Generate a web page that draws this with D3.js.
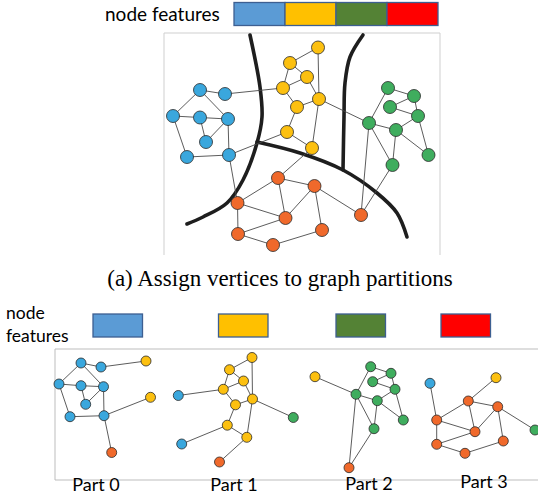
<!DOCTYPE html>
<html>
<head>
<meta charset="utf-8">
<script src="https://cdn.jsdelivr.net/npm/d3@7"></script>
<style>
  body { margin: 0; background: #fff; }
  svg { display: block; }
</style>
</head>
<body>
<div id="chart"></div>
<script>
// feature categories (one per partition)
var featureNames = ["f0", "f1", "f2", "f3"];
var partLabels = ["Part 0", "Part 1", "Part 2", "Part 3"];
var caption = "(a) Assign vertices to graph partitions";

// full graph, layout units: [id, feature, x, y]
var topNodes = [
  ["b1", 0, 36, 57], ["b2", 0, 61, 61], ["b3", 0, 9, 83], ["b4", 0, 36, 84.5],
  ["b5", 0, 64, 86], ["b6", 0, 42, 109], ["b7", 0, 23, 124], ["b8", 0, 65, 122],
  ["y1", 1, 154, 14.5], ["y2", 1, 126, 30], ["y3", 1, 143, 44], ["y4", 1, 119, 55],
  ["y5", 1, 155, 66], ["y6", 1, 133, 74], ["y7", 1, 123, 99], ["y8", 1, 148, 115],
  ["g1", 2, 224, 55], ["g2", 2, 250, 63], ["g3", 2, 226, 74], ["g4", 2, 254, 83],
  ["g5", 2, 205, 90], ["g6", 2, 232, 97], ["g7", 2, 264.5, 122], ["g8", 2, 228.5, 132],
  ["o1", 3, 114, 145], ["o2", 3, 150.5, 153], ["o3", 3, 73.5, 170], ["o4", 3, 121.5, 185],
  ["o5", 3, 197, 182], ["o6", 3, 158, 197], ["o7", 3, 74, 201], ["o8", 3, 109, 212]
];
var topEdges = [
  ["b1","b2"],["b1","b3"],["b1","b5"],["b3","b4"],["b4","b5"],["b4","b6"],["b5","b6"],
  ["b3","b7"],["b7","b8"],["b5","b8"],["b2","y4"],["b8","y7"],["b8","o3"],
  ["y1","y2"],["y1","y5"],["y2","y3"],["y2","y4"],["y3","y4"],["y3","y5"],["y4","y6"],
  ["y5","y6"],["y5","y8"],["y6","y7"],["y7","y8"],["y5","g5"],["y8","o1"],
  ["g1","g2"],["g1","g5"],["g2","g3"],["g2","g4"],["g3","g4"],["g4","g6"],["g4","g7"],
  ["g5","g6"],["g5","g8"],["g6","g7"],["g6","g8"],["g5","o5"],["g8","o5"],
  ["o1","o2"],["o1","o3"],["o1","o4"],["o2","o4"],["o2","o5"],["o2","o6"],["o3","o4"],
  ["o3","o7"],["o4","o7"],["o6","o8"],["o7","o8"]
];
// partition boundaries
var cutA = [[86,2],[96,54],[98,84],[93,110],[79,147],[63,170],[39,184],[23,191]];
var cutB = [[199,2],[186,24],[181,50],[180,84],[179,137]];
var cutC = [[93,109],[136,120],[179,137],[213,160],[233,180],[243,204]];

// the four partitions, with halo vertices from neighbours
var part0Nodes = [
  ["b1",0,26,14],["b2",0,46,18],["b3",0,4,35],["b4",0,26,36.7],["b5",0,48.5,37.7],
  ["b6",0,30.7,55.3],["b7",0,15,67.7],["b8",0,49,66.7],
  ["y4",1,91,12],["y7",1,95.5,48.3],["o3",3,56.7,103.5]
];
var part0Edges = [
  ["b1","b2"],["b1","b3"],["b1","b5"],["b3","b4"],["b4","b5"],["b4","b6"],["b5","b6"],
  ["b3","b7"],["b7","b8"],["b5","b8"],["b2","y4"],["b8","y7"],["b8","o3"]
];
var part1Nodes = [
  ["y1",1,197,8.5],["y2",1,174.5,20.7],["y3",1,188.5,32],["y4",1,168.3,40.3],
  ["y5",1,197.5,50],["y6",1,180.5,55.8],["y7",1,172.3,76.2],["y8",1,191.8,88.3],
  ["b2",0,123.3,46.5],["b8",0,126.7,95],["g5",2,238.3,68.5],["o1",3,164.5,113]
];
var part1Edges = [
  ["y1","y2"],["y1","y5"],["y2","y3"],["y2","y4"],["y3","y4"],["y3","y5"],["y4","y6"],
  ["y5","y6"],["y5","y8"],["y6","y7"],["y7","y8"],["y4","b2"],["y5","g5"],["y7","b8"],["y8","o1"]
];
var part2Nodes = [
  ["g1",2,315.7,17.7],["g2",2,336,24.3],["g3",2,317.7,32.7],["g4",2,340,40.3],
  ["g5",2,301,45.3],["g6",2,322.3,51.7],["g7",2,348.3,71],["g8",2,319,79.7],
  ["y5",1,260,27.7],["o5",3,294,118.7]
];
var part2Edges = [
  ["g1","g2"],["g1","g5"],["g2","g3"],["g2","g4"],["g3","g4"],["g4","g6"],["g4","g7"],
  ["g5","g6"],["g5","g8"],["g6","g7"],["g6","g8"],["g5","y5"],["g5","o5"],["g8","o5"]
];
var part3Nodes = [
  ["o1",3,413.3,52],["o2",3,442.7,57.7],["o3",3,381.7,71],["o4",3,420,82.7],
  ["o6",3,448.3,92],["o7",3,381.7,95.3],["o8",3,410,104.3],
  ["b8",0,375,34.3],["y8",1,441,28.7],["o5",2,480,81]
];
var part3Edges = [
  ["o1","o2"],["o1","o3"],["o1","o4"],["o2","o4"],["o2","o6"],["o3","o4"],["o3","o7"],
  ["o4","o7"],["o6","o8"],["o7","o8"],["o3","b8"],["o1","y8"],["o2","o5"]
];

var width = 538, height = 495;

var svg = d3.select("#chart").append("svg")
    .attr("width", width)
    .attr("height", height)
    .style("font-family", "Lato, 'Open Sans', sans-serif");

var nodeColor = d3.scaleOrdinal().domain([0,1,2,3])
    .range(["#3aa7dd", "#fcc010", "#3fad5e", "#f0692b"]);
var featColor = d3.scaleOrdinal().domain(featureNames)
    .range(["#5b9bd5", "#ffc000", "#548235", "#ff0000"]);

// ---------- top: whole graph ----------
var xTop = d3.scaleLinear().domain([0, 276]).range([164, 440]);
var yTop = d3.scaleLinear().domain([0, 222]).range([33, 255]);

svg.append("text")
    .attr("x", 105).attr("y", 21)
    .style("font-size", "19px")
    .text("node features");

var xBar = d3.scaleBand().domain(featureNames).range([234, 438]);
svg.append("g").selectAll("rect")
  .data(featureNames)
  .enter().append("rect")
    .attr("x", function(d) { return xBar(d); })
    .attr("y", 2.5)
    .attr("width", xBar.bandwidth())
    .attr("height", 23)
    .style("fill", function(d) { return featColor(d); })
    .style("stroke", "#3d5f91")
    .style("stroke-width", 1.3);

svg.append("path")
    .attr("d", "M" + xTop(0) + "," + yTop(222) + "V" + yTop(0) + "H" + xTop(276) + "V" + yTop(222))
    .style("fill", "none")
    .style("stroke", "#cfcfcf");

var cutLine = d3.line()
    .x(function(d) { return xTop(d[0]); })
    .y(function(d) { return yTop(d[1]); })
    .curve(d3.curveCatmullRom);

svg.append("g").selectAll("path")
  .data([cutA, cutB, cutC])
  .enter().append("path")
    .attr("d", cutLine)
    .style("fill", "none")
    .style("stroke", "#1e1e1e")
    .style("stroke-width", 3.6)
    .style("stroke-linecap", "round");

function drawGraph(g, nodes, edges, xs, ys, r) {
  var byId = {};
  nodes.forEach(function(n) { byId[n[0]] = n; });
  g.append("g").selectAll("line")
    .data(edges)
    .enter().append("line")
      .attr("x1", function(d) { return xs(byId[d[0]][2]); })
      .attr("y1", function(d) { return ys(byId[d[0]][3]); })
      .attr("x2", function(d) { return xs(byId[d[1]][2]); })
      .attr("y2", function(d) { return ys(byId[d[1]][3]); })
      .style("stroke", "#4a4a4a")
      .style("stroke-width", 0.9);
  g.append("g").selectAll("circle")
    .data(nodes)
    .enter().append("circle")
      .attr("cx", function(d) { return xs(d[2]); })
      .attr("cy", function(d) { return ys(d[3]); })
      .attr("r", r)
      .style("fill", function(d) { return nodeColor(d[1]); })
      .style("stroke", "#2a2a2a")
      .style("stroke-width", 0.8);
}

drawGraph(svg.append("g"), topNodes, topEdges, xTop, yTop, 6.5);

svg.append("text")
    .attr("x", 280).attr("y", 286)
    .attr("text-anchor", "middle")
    .style("font-family", "'Liberation Serif', 'Times New Roman', serif")
    .style("font-size", "23px")
    .text(caption);

// ---------- bottom: partitions ----------
var xBot = d3.scaleLinear().domain([0, 483]).range([55, 538]);
var yBot = d3.scaleLinear().domain([0, 131]).range([349, 480]);

svg.append("text").attr("x", 6).attr("y", 319).style("font-size", "17.5px").text("node");
svg.append("text").attr("x", 6).attr("y", 342).style("font-size", "17.5px").text("features");

svg.append("g").selectAll("rect")
  .data(featureNames)
  .enter().append("rect")
    .attr("x", function(d, i) { return [93, 218.5, 336, 441][i]; })
    .attr("y", 314)
    .attr("width", 49.5)
    .attr("height", 23)
    .style("fill", function(d) { return featColor(d); })
    .style("stroke", "#3d5f91")
    .style("stroke-width", 1.3);

svg.append("path")
    .attr("d", "M" + width + "," + yBot(0) + "H" + xBot(0) + "V" + yBot(131) + "H" + width)
    .style("fill", "none")
    .style("stroke", "#bdbdbd");

[[part0Nodes, part0Edges], [part1Nodes, part1Edges], [part2Nodes, part2Edges], [part3Nodes, part3Edges]]
  .forEach(function(p) {
    drawGraph(svg.append("g"), p[0], p[1], xBot, yBot, 5);
  });

var partX = [96, 234, 369, 484];
var partY = [491, 491, 490, 488];
svg.append("g").selectAll("text")
  .data(partLabels)
  .enter().append("text")
    .attr("x", function(d, i) { return partX[i]; })
    .attr("y", function(d, i) { return partY[i]; })
    .attr("text-anchor", "middle")
    .style("font-size", "18px")
    .text(function(d) { return d; });
</script>
</body>
</html>
